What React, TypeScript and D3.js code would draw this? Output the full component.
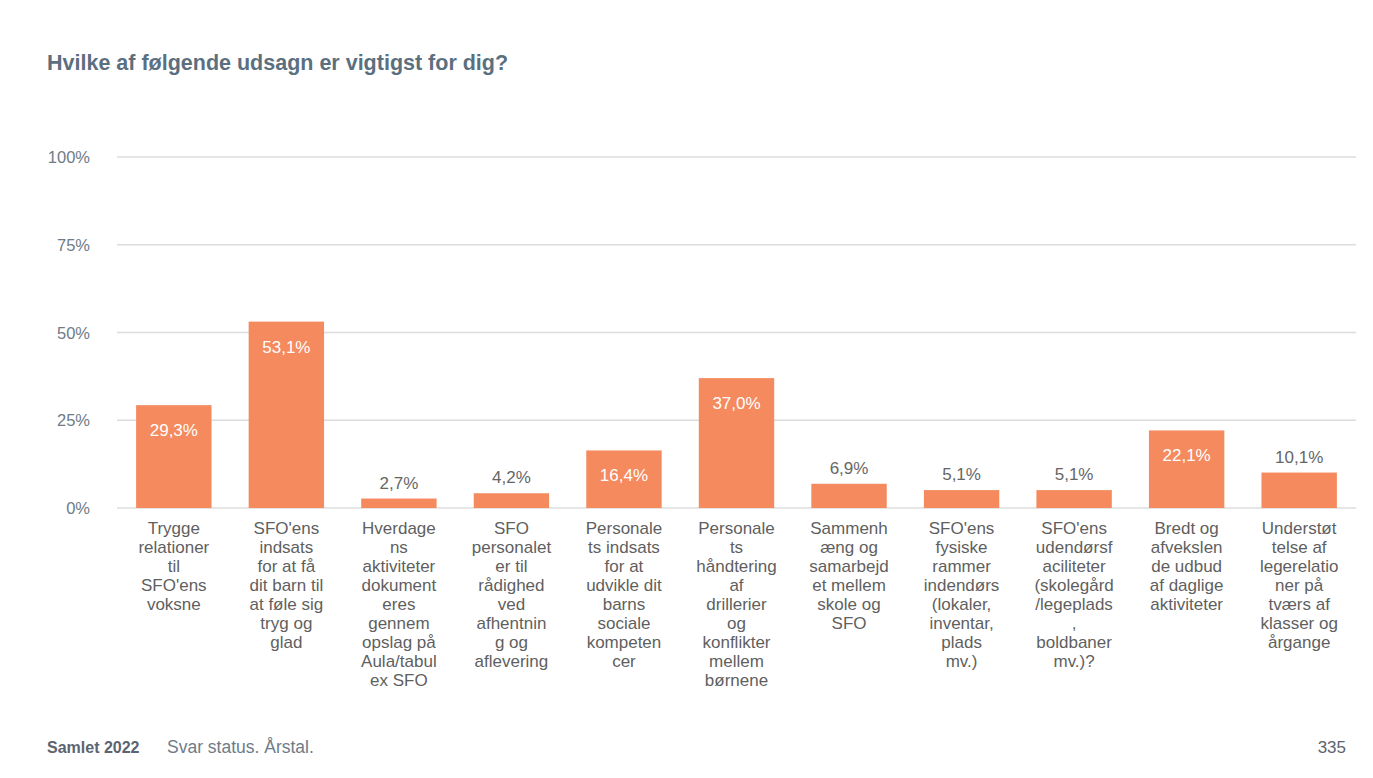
import React from "react";
import * as d3 from "d3";

const categories: string[][] = [
  ["Trygge", "relationer", "til", "SFO'ens", "voksne"],
  ["SFO'ens", "indsats", "for at få", "dit barn til", "at føle sig", "tryg og", "glad"],
  ["Hverdage", "ns", "aktiviteter", "dokument", "eres", "gennem", "opslag på", "Aula/tabul", "ex SFO"],
  ["SFO", "personalet", "er til", "rådighed", "ved", "afhentnin", "g og", "aflevering"],
  ["Personale", "ts indsats", "for at", "udvikle dit", "barns", "sociale", "kompeten", "cer"],
  ["Personale", "ts", "håndtering", "af", "drillerier", "og", "konflikter", "mellem", "børnene"],
  ["Sammenh", "æng og", "samarbejd", "et mellem", "skole og", "SFO"],
  ["SFO'ens", "fysiske", "rammer", "indendørs", "(lokaler,", "inventar,", "plads", "mv.)"],
  ["SFO'ens", "udendørsf", "aciliteter", "(skolegård", "/legeplads", ",", "boldbaner", "mv.)?"],
  ["Bredt og", "afvekslen", "de udbud", "af daglige", "aktiviteter"],
  ["Understøt", "telse af", "legerelatio", "ner på", "tværs af", "klasser og", "årgange"],
];
const values: number[] = [29.3, 53.1, 2.7, 4.2, 16.4, 37.0, 6.9, 5.1, 5.1, 22.1, 10.1];
const yTicks: number[] = [0, 25, 50, 75, 100];

const W = 1373;
const H = 778;
const left = 117;
const right = 1356;
const top = 157;
const bottom = 508;

export default function App() {
  const x = d3
    .scaleBand<number>()
    .domain(values.map((_, i) => i))
    .range([left, right])
    .paddingInner(0.33)
    .paddingOuter(0.17);
  const y = d3.scaleLinear().domain([0, 100]).range([bottom, top]);
  const fmt = (v: number) => v.toFixed(1).replace(".", ",") + "%";
  const font = "'Liberation Sans', Arial, sans-serif";

  return (
    <svg
      width={W}
      height={H}
      style={{ position: "absolute", left: 0, top: 0, background: "#fff" }}
      fontFamily={font}
    >
      <text x={47} y={69.5} fontSize={21.5} fontWeight="bold" fill="#5b6f7f">
        Hvilke af følgende udsagn er vigtigst for dig?
      </text>
      {yTicks.map((t) => (
        <g key={t}>
          <line x1={left} x2={right} y1={y(t)} y2={y(t)} stroke="#dcdcdc" strokeWidth={1.5} />
          <text x={90} y={y(t) + 6} fontSize={16.5} textAnchor="end" fill="#6e7c88">
            {t}%
          </text>
        </g>
      ))}
      {values.map((v, i) => {
        const bx = x(i)!;
        const bw = x.bandwidth();
        const inside = v >= 12;
        return (
          <g key={i}>
            <rect x={bx} y={y(v)} width={bw} height={bottom - y(v)} fill="#f48a5e" />
            <text
              x={bx + bw / 2}
              y={inside ? y(v) + 31 : y(v) - 10}
              fontSize={17}
              textAnchor="middle"
              fill={inside ? "#ffffff" : "#666666"}
            >
              {fmt(v)}
            </text>
            {categories[i].map((line, j) => (
              <text
                key={j}
                x={bx + bw / 2}
                y={534 + j * 19}
                fontSize={17}
                textAnchor="middle"
                fill="#5f5f5f"
              >
                {line}
              </text>
            ))}
          </g>
        );
      })}
      <text x={47} y={753} fontSize={16} fontWeight="bold" fill="#5b6470">
        Samlet 2022
      </text>
      <text x={167} y={753} fontSize={17.5} fill="#6e7c88">
        Svar status. Årstal.
      </text>
      <text x={1346} y={753} fontSize={17} textAnchor="end" fill="#5b6470">
        335
      </text>
    </svg>
  );
}
